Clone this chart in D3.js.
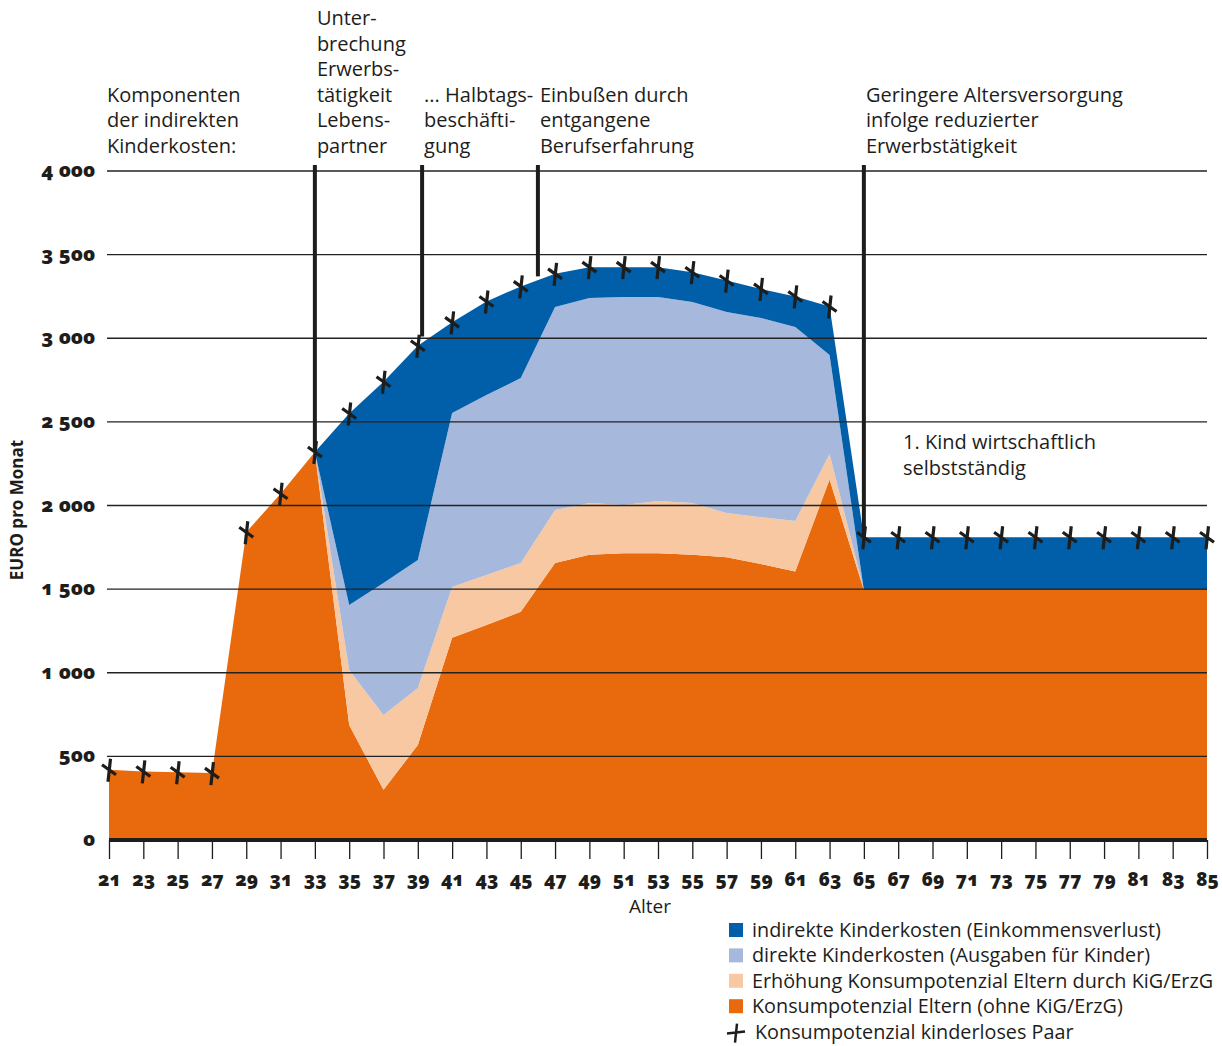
<!DOCTYPE html>
<html>
<head>
<meta charset="utf-8">
<script src="https://cdn.jsdelivr.net/npm/d3@7"></script>
<style>
  body { margin: 0; background: #fff; }
  svg { font-family: 'Open Sans', 'Noto Sans', sans-serif; }
  .num { font-weight: 800; font-variant-numeric: oldstyle-nums; font-feature-settings: 'onum' 1; }
</style>
</head>
<body>
<div id="chart"></div>
<script>
const width = 1222
const height = 1046

// Alter (x axis)
const ages = d3.range(21, 86, 2)
const yTicks = [0, 500, 1000, 1500, 2000, 2500, 3000, 3500, 4000]

// stacked components, EURO pro Monat
const konsum = [420, 410, 405, 400, 1840, 2070, 2320, 688, 300, 568, 1210, 1285, 1365, 1656, 1705, 1715, 1715,
  1705, 1690, 1650, 1605, 2155, 1495, 1495, 1495, 1495, 1495, 1495, 1495, 1495, 1495, 1495, 1495]
const erhoehung = [0, 0, 0, 0, 0, 0, 0, 328, 448, 341, 303, 299, 291, 317, 310, 288, 312,
  310, 265, 280, 302, 153, 0, 0, 0, 0, 0, 0, 0, 0, 0, 0, 0]
const direkt = [0, 0, 0, 0, 0, 0, 0, 389, 789, 765, 1040, 1076, 1106, 1214, 1225, 1244, 1220,
  1202, 1202, 1191, 1160, 592, 0, 0, 0, 0, 0, 0, 0, 0, 0, 0, 0]
const indirekt = [0, 0, 0, 0, 0, 0, 0, 1145, 1203, 1281, 542, 560, 548, 198, 185, 178, 178,
  178, 188, 174, 183, 290, 315, 315, 315, 315, 315, 315, 315, 315, 315, 315, 315]
// Konsumpotenzial kinderloses Paar
const kinderlos = [420, 410, 405, 400, 1840, 2070, 2320, 2550, 2740, 2955, 3095, 3220, 3310, 3385, 3425, 3425, 3425,
  3395, 3345, 3295, 3250, 3190, 1810, 1810, 1810, 1810, 1810, 1810, 1810, 1810, 1810, 1810, 1810]

const seriesKeys = ['konsum', 'erhoehung', 'direkt', 'indirekt']
const colors = { konsum: '#e96a0c', erhoehung: '#f7c8a1', direkt: '#a6b8db', indirekt: '#005fa8' }
const legendLabels = [
  ['indirekt', 'indirekte Kinderkosten (Einkommensverlust)'],
  ['direkt', 'direkte Kinderkosten (Ausgaben für Kinder)'],
  ['erhoehung', 'Erhöhung Konsumpotenzial Eltern durch KiG/ErzG'],
  ['konsum', 'Konsumpotenzial Eltern (ohne KiG/ErzG)']
]

// annotation markers: age position, end value, text lines
const notes = [
  { age: null, lines: ['Komponenten', 'der indirekten', 'Kinderkosten:'], tx: 107 },
  { age: 33, end: 2320, lines: ['Unter-', 'brechung', 'Erwerbs-', 'tätigkeit', 'Lebens-', 'partner'] },
  { age: 39.25, end: 3010, lines: ['... Halbtags-', 'beschäfti-', 'gung'] },
  { age: 46, end: 3370, lines: ['Einbußen durch', 'entgangene', 'Berufserfahrung'] },
  { age: 65, end: 1800, lines: ['Geringere Altersversorgung', 'infolge reduzierter', 'Erwerbstätigkeit'] }
]

const data = ages.map((a, i) => ({
  age: a, konsum: konsum[i], erhoehung: erhoehung[i], direkt: direkt[i], indirekt: indirekt[i], kinderlos: kinderlos[i]
}))

const x = d3.scaleLinear().domain([21, 85]).range([109, 1207])
const y = d3.scaleLinear().domain([0, 4000]).range([840, 171])

const svg = d3.select('#chart').append('svg')
  .attr('width', width)
  .attr('height', height)

// areas
const stack = d3.stack().keys(seriesKeys)
const area = d3.area()
  .x(d => x(d.data.age))
  .y0(d => y(d[0]))
  .y1(d => y(d[1]))

svg.append('g').selectAll('path')
  .data(stack(data))
  .join('path')
  .attr('d', area)
  .attr('fill', d => colors[d.key])

// grid lines
svg.append('g').selectAll('line')
  .data(yTicks.filter(t => t > 0))
  .join('line')
  .attr('x1', 107).attr('x2', 1207)
  .attr('y1', d => y(d)).attr('y2', d => y(d))
  .attr('stroke', '#222').attr('stroke-width', 1.3)

// y labels
svg.append('g').selectAll('text')
  .data(yTicks)
  .join('text')
  .attr('class', 'num')
  .attr('x', 95)
  .attr('y', d => y(d) + 6)
  .attr('text-anchor', 'end')
  .attr('font-size', 20)
  .attr('fill', '#1d1d1b')
  .text(d => d3.format(',')(d).replace(',', ' '))

svg.append('text')
  .attr('transform', 'translate(23,510) rotate(-90)')
  .attr('text-anchor', 'middle')
  .attr('font-size', 17)
  .attr('font-weight', 700)
  .attr('fill', '#1d1d1b')
  .text('EURO pro Monat')

// x axis
const xAxis = svg.append('g')
  .attr('transform', 'translate(0,840)')
  .call(d3.axisBottom(x).tickValues(ages).tickSize(19).tickFormat(d3.format('d')))
xAxis.select('.domain').attr('stroke', '#1d1d1b').attr('stroke-width', 4).attr('d', `M${x(21)},0H${x(85)}`)
xAxis.selectAll('.tick line').attr('stroke', '#1d1d1b').attr('stroke-width', 1.3)
xAxis.selectAll('.tick text')
  .attr('class', 'num')
  .attr('y', 33)
  .attr('font-size', 19)
  .attr('font-family', "'Open Sans', sans-serif")
  .attr('fill', '#1d1d1b')

svg.append('text')
  .attr('x', 650).attr('y', 913)
  .attr('text-anchor', 'middle')
  .attr('font-size', 19)
  .attr('fill', '#1d1d1b')
  .text('Alter')

// annotation lines
svg.append('g').selectAll('line')
  .data(notes.filter(n => n.age !== null))
  .join('line')
  .attr('x1', d => x(d.age)).attr('x2', d => x(d.age))
  .attr('y1', 165).attr('y2', d => y(d.end))
  .attr('stroke', '#1d1d1b').attr('stroke-width', 4)

const noteG = svg.append('g')
notes.forEach(n => {
  const tx = n.tx !== undefined ? n.tx : x(n.age) + 2
  const t = noteG.append('text')
    .attr('font-size', 20)
    .attr('fill', '#1d1d1b')
  n.lines.forEach((l, i) => {
    t.append('tspan')
      .attr('x', tx)
      .attr('y', 153 - (n.lines.length - 1 - i) * 25.6)
      .text(l)
  })
})

const kind = svg.append('text').attr('font-size', 20).attr('fill', '#1d1d1b')
kind.append('tspan').attr('x', 903).attr('y', 449).text('1. Kind wirtschaftlich')
kind.append('tspan').attr('x', 903).attr('y', 475).text('selbstständig')

// crosses for kinderloses Paar
const crossPath = 'M1.5,-11L-1,12M-7,-5L7,5'
svg.append('g').selectAll('path')
  .data(data)
  .join('path')
  .attr('transform', d => `translate(${x(d.age)},${y(d.kinderlos)})`)
  .attr('d', crossPath)
  .attr('stroke', '#1d1d1b')
  .attr('stroke-width', 3.2)
  .attr('fill', 'none')

// legend
const legend = svg.append('g').attr('transform', 'translate(729,930)')
legendLabels.forEach(([k, label], i) => {
  legend.append('rect')
    .attr('x', 0).attr('y', i * 25.4 - 7)
    .attr('width', 14).attr('height', 14)
    .attr('fill', colors[k])
  legend.append('text')
    .attr('x', 23).attr('y', i * 25.4 + 7)
    .attr('font-size', 19.8)
    .attr('fill', '#1d1d1b')
    .text(label)
})
legend.append('path')
  .attr('transform', `translate(7,${4 * 25.4 + 1})`)
  .attr('d', 'M1,-9L-1,10M-9,1L9,-1')
  .attr('stroke', '#1d1d1b')
  .attr('stroke-width', 2.5)
legend.append('text')
  .attr('x', 26).attr('y', 4 * 25.4 + 7)
  .attr('font-size', 19.8)
  .attr('fill', '#1d1d1b')
  .text('Konsumpotenzial kinderloses Paar')
</script>
</body>
</html>
